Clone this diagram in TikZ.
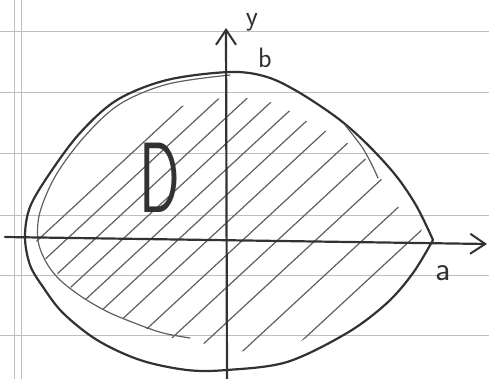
\documentclass[tikz,border=0pt]{standalone}
\usepackage{tikz}
\usetikzlibrary{arrows.meta,positioning}
\definecolor{clrInk}{RGB}{50,50,50}
\definecolor{clrHatch}{RGB}{95,95,95}
\definecolor{clrRule}{RGB}{190,190,190}
\tikzset{
  inkline/.style={draw=clrInk, line width=2.2pt, line cap=round, line join=round},
  thinline/.style={draw=clrHatch, line width=1.2pt, line cap=round},
  axisline/.style={draw=clrInk, line width=2.2pt, line cap=round, -{Straight Barb[length=15pt,width=20pt,line width=2pt]}},
  ruleline/.style={draw=clrRule, line width=1pt},
  handlabel/.style={text=clrInk, inner sep=0pt}
}

\begin{document}
\begin{tikzpicture}[x=1pt, y=-1pt]
\useasboundingbox (0,0) rectangle (489,379);

% ruled paper
\foreach \ry in {32,93,154,215,275,335}
  \draw[ruleline] (0,\ry) -- (489,\ry);
\draw[ruleline] (14,0) -- (14,379);
\draw[ruleline] (21,0) -- (21,379);

% hatching of D
\begin{scope}
  \clip plot[smooth cycle, tension=0.6] coordinates {(36,238) (40,212) (58,178) (90,148) (132,128) (160,114) (190,104) (227,98) (270,102) (310,123) (353,147) (382,180) (400,210) (416,240) (293,345) (190,341) (137,325) (80,295) (45,258)};
  \foreach \c in {40,68,96,124,152,180,210,245,280,318,365,413}
    \draw[thinline] ({\c-200},{238+185}) -- ({\c+200},{238-185});
\end{scope}

% boundary of D
\draw[inkline] plot[smooth, tension=0.55] coordinates {(433,240) (417,207) (397,177) (370,147) (340,120) (300,93) (267,77) (230,72) (167,80) (117,100) (80,133) (50,173) (30,207) (25,237) (30,265) (43,287) (63,313) (97,340) (140,360) (187,370) (227,370) (287,362) (347,333) (387,303) (413,273) (433,240)};
\draw[thinline] plot[smooth, tension=0.55] coordinates {(230,75) (168,84) (120,104) (85,136) (56,175) (40,212) (38,240) (46,262) (60,280) (82,297) (108,312) (137,324) (163,333) (190,338)};
\draw[thinline] plot[smooth] coordinates {(345,125) (362,147) (372,165) (378,178)};

% axes
\coordinate (xstart) at (5,237);
\coordinate (xend) at (487,244);
\coordinate (ystart) at (227,379);
\coordinate (yend) at (226,28);
\draw[axisline] (xstart) -- (xend);
\draw[axisline] (ystart) -- (yend);

\node[handlabel, font=\sffamily\fontsize{28}{28}\selectfont] (lbly) at (252,22) {y};
\node[handlabel, font=\sffamily\fontsize{28}{28}\selectfont] (lblb) at (265,58) {b};
\node[handlabel, font=\sffamily\fontsize{34}{34}\selectfont] (lbla) at (443,273) {a};
\node[handlabel, font=\sffamily\fontsize{100}{100}\selectfont] (lblD) at (160,178) {\scalebox{0.6}[1]{D}};

\end{tikzpicture}
\end{document}
